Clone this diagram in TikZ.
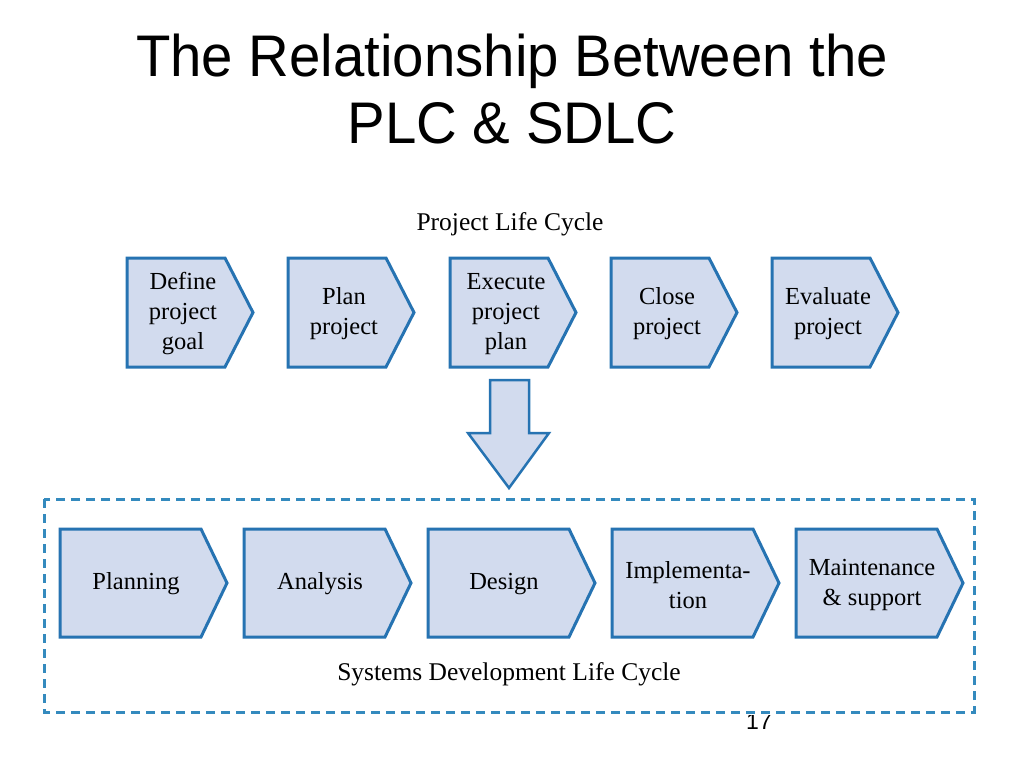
\documentclass[tikz,border=0pt]{standalone}
\usepackage{fontspec}
\setmainfont{Liberation Serif}
\newfontfamily\titlefont[FakeStretch=0.96]{Liberation Sans}
\newfontfamily\pagefont{Liberation Sans}
\definecolor{cellblue}{RGB}{38,115,178}
\definecolor{cellfill}{RGB}{210,219,238}
\definecolor{dashblue}{RGB}{52,138,190}
\begin{document}
\begin{tikzpicture}[x=1pt, y=-1pt,
    cell/.style={draw=cellblue, fill=cellfill, line width=3pt, line join=miter},
    celltext/.style={align=center, font=\fontsize{24.5}{30}\selectfont},
    caption/.style={font=\fontsize{25.5}{30}\selectfont},
    headline/.style={anchor=base, font=\titlefont\fontsize{58.7}{66}\selectfont}]
        \useasboundingbox (0,0) rectangle (1024,768);

        \node[headline] (title1) at (512,77) {The Relationship Between the};
        \node[headline] (title2) at (512,143) {PLC \& SDLC};

        \node[caption] (plc) at (510,224) {Project Life Cycle};

        % project life cycle
        \draw[cell] (127,258) -- (225,258) -- (253,312.5) -- (225,367) -- (127,367) -- cycle;
        \node[celltext] (define) at (183,314) {Define\\project\\goal};

        \draw[cell] (288,258) -- (386,258) -- (414,312.5) -- (386,367) -- (288,367) -- cycle;
        \node[celltext] (plan) at (344,314) {Plan\\project};

        \draw[cell] (450,258) -- (548,258) -- (576,312.5) -- (548,367) -- (450,367) -- cycle;
        \node[celltext] (execute) at (506,314) {Execute\\project\\plan};

        \draw[cell] (611,258) -- (709,258) -- (737,312.5) -- (709,367) -- (611,367) -- cycle;
        \node[celltext] (close) at (667,314) {Close\\project};

        \draw[cell] (772,258) -- (870,258) -- (898,312.5) -- (870,367) -- (772,367) -- cycle;
        \node[celltext] (evaluate) at (828,314) {Evaluate\\project};

        % big arrow down
        \draw[cell, line width=2.5pt] (490,380) -- (529,380) -- (529,433) -- (549,433) -- (509,488) -- (468,433) -- (490,433) -- cycle;

        \node[font=\pagefont\fontsize{23}{26}\selectfont, anchor=base] (page) at (759,729) {17};

        % systems development life cycle
        \fill[white] (44,499) rectangle (974,715);
        \draw[dashblue, line width=3pt, dash pattern=on 9pt off 6pt] (44,499) rectangle (974,712);

        \draw[cell] (60,529) -- (201,529) -- (227,583) -- (201,637) -- (60,637) -- cycle;
        \node[celltext] (planning) at (136,584) {Planning};

        \draw[cell] (244,529) -- (385,529) -- (411,583) -- (385,637) -- (244,637) -- cycle;
        \node[celltext] (analysis) at (320,584) {Analysis};

        \draw[cell] (428,529) -- (569,529) -- (595,583) -- (569,637) -- (428,637) -- cycle;
        \node[celltext] (design) at (504,584) {Design};

        \draw[cell] (612,529) -- (753,529) -- (779,583) -- (753,637) -- (612,637) -- cycle;
        \node[celltext] (implement) at (688,585) {Implementa-\\tion};

        \draw[cell] (796,529) -- (937,529) -- (963,583) -- (937,637) -- (796,637) -- cycle;
        \node[celltext] (maintain) at (872,585) {Maintenance\\\& support};

        \node[caption] (sdlc) at (509,674) {Systems Development Life Cycle};

    \end{tikzpicture}
\end{document}
